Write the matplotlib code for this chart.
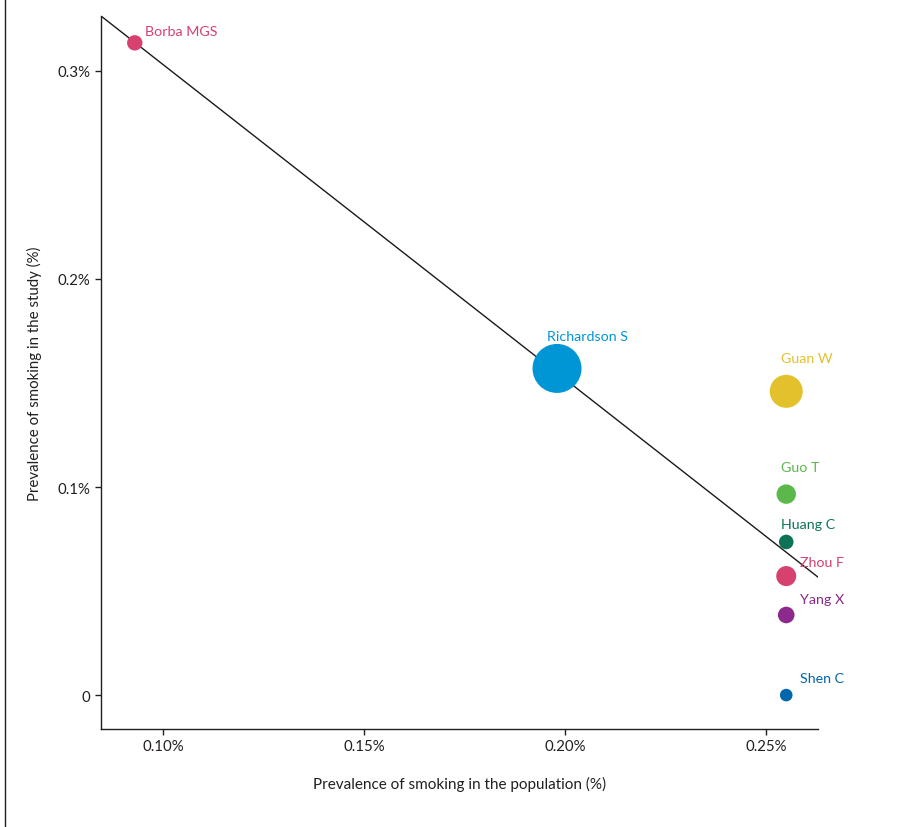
import matplotlib
matplotlib.use("Agg")
import matplotlib.pyplot as plt
from matplotlib.lines import Line2D

plt.rcParams['font.family'] = ['Lato', 'DejaVu Sans']

# study data (prevalence in %)
studies = ["Borba MGS", "Richardson S", "Guan W", "Guo T", "Huang C", "Zhou F", "Yang X", "Shen C"]
pop_prev = [0.093, 0.198, 0.255, 0.255, 0.255, 0.255, 0.255, 0.255]
study_prev = [0.3135, 0.157, 0.146, 0.0966, 0.0736, 0.0572, 0.0385, 0.0]
weight = [7.7, 24.5, 16.5, 9.7, 7.3, 10.0, 8.3, 6.3]
colors = ["#d6416f", "#0096d6", "#e3c12c", "#5ab94a", "#0e7356", "#d6416f", "#8b2a8c", "#0067ad"]

# regression line end points
fit_x = [0.0846, 0.2629]
fit_y = [0.3264, 0.0567]

xticks = [0.10, 0.15, 0.20, 0.25]
xticklabels = ["0.10%", "0.15%", "0.20%", "0.25%"]
yticks = [0.0, 0.1, 0.2, 0.3]
yticklabels = ["0", "0.1%", "0.2%", "0.3%"]

# label offsets in pixels (dx, dy, ha)
offsets = [(10, 12, "left"), (30, 32, "center"), (-5, 33, "left"), (-5, 27, "left"),
           (-5, 18, "left"), (14, 14, "left"), (14, 16, "left"), (14, 17, "left")]

W, H = 921, 828
fig = plt.figure(figsize=(W / 100, H / 100), dpi=100)
ax = fig.add_axes([101 / W, (H - 730) / H, (818 - 101) / W, (730 - 17) / H])

ax.plot(fit_x, fit_y, color="#1a1a1a", lw=1.0, zorder=1)
sizes = [(1.44 * r) ** 2 for r in weight]
ax.scatter(pop_prev, study_prev, s=sizes, c=colors, edgecolors="none", zorder=2)

for name, x, y, c, (dx, dy, ha) in zip(studies, pop_prev, study_prev, colors, offsets):
    ax.annotate(name, (x, y), xytext=(dx * 0.72, dy * 0.72), textcoords="offset points",
                ha=ha, va="center", color=c, fontsize=10.3)

ax.set_xlim(fit_x[0], fit_x[1])
ax.set_ylim(-0.0163, fit_y[0])
ax.set_xticks(xticks)
ax.set_xticklabels(xticklabels)
ax.set_yticks(yticks)
ax.set_yticklabels(yticklabels)
ax.tick_params(labelsize=10.8, colors="#231f20", length=4, width=1)

for s in ["top", "right"]:
    ax.spines[s].set_visible(False)
for s in ["left", "bottom"]:
    ax.spines[s].set_color("#231f20")
    ax.spines[s].set_linewidth(1.0)

ax.set_xlabel("Prevalence of smoking in the population (%)", fontsize=11, color="#231f20", labelpad=16)
ax.set_ylabel("Prevalence of smoking in the study (%)", fontsize=10.8, color="#231f20", labelpad=11)

# frame line on the left
fig.add_artist(Line2D([5 / W, 5 / W], [0, 1], color="#231f20", lw=1.0))

fig.savefig("out.png", dpi=100, facecolor="white")
